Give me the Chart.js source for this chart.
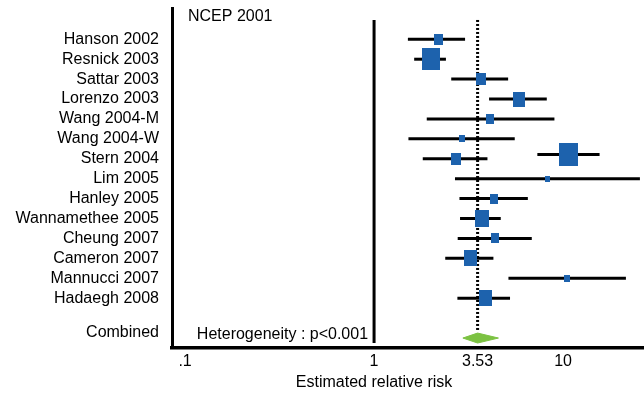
<!DOCTYPE html>
<html>
<head>
<meta charset="utf-8">
<script src="https://cdn.jsdelivr.net/npm/chart.js@4/dist/chart.umd.min.js"></script>
<style>
  html, body { margin: 0; padding: 0; background: #fff; }
  #wrap { width: 644px; height: 394px; }
</style>
</head>
<body>
<div id="wrap"><canvas id="myChart"></canvas></div>
<script>
// row labels on the left
const studyLabels = ['Hanson 2002', 'Resnick 2003', 'Sattar 2003', 'Lorenzo 2003', 'Wang 2004-M', 'Wang 2004-W',
    'Stern 2004', 'Lim 2005', 'Hanley 2005', 'Wannamethee 2005', 'Cheung 2007', 'Cameron 2007',
    'Mannucci 2007', 'Hadaegh 2008', 'Combined'];
const labelRows = [1, 2, 3, 4, 5, 6, 7, 8, 9, 10, 11, 12, 13, 14, 15.75];

// one entry per estimate (Stern 2004 has two)
const studyRow = [1, 2, 3, 4, 5, 6, 7, 6.78, 8, 9, 10, 11, 12, 13, 14];
const relRisk = [2.18, 1.99, 3.68, 5.84, 4.13, 2.93, 2.71, 10.7, 8.28, 4.32, 3.73, 4.36, 3.23, 10.5, 3.88];
const ciLow = [1.51, 1.63, 2.56, 4.06, 1.90, 1.52, 1.81, 7.31, 2.68, 2.83, 2.85, 2.77, 2.38, 5.14, 2.76];
const ciHigh = [3.03, 2.40, 5.12, 8.20, 9.0, 5.55, 3.98, 15.6, 25.5, 6.51, 4.68, 6.83, 4.28, 21.5, 5.24];
const weights = [8.6, 31, 10, 15.1, 5.9, 3.2, 10.6, 36, 2.5, 6.9, 19.6, 6.9, 16.1, 3.2, 16.1];

// pooled estimate
const pooledRR = 3.53;
const pooledLow = 2.95;
const pooledHigh = 4.55;
const pooledRow = 16;

const xTicks = [0.1, 1, 3.53, 10];
const xTickLabels = ['.1', '1', '3.53', '10'];

const titleText = 'NCEP 2001';
const hetText = 'Heterogeneity : p<0.001';
const axisTitle = 'Estimated relative risk';

const FONT = 'Liberation Sans';
const BLUE = '#1d62ad';
const GREEN = '#7cc242';

function makeBox(weight){
    let w = Math.round(Math.sqrt(weight * 10));
    let h = Math.round(w * 1.22);
    let c = document.createElement('canvas');
    c.width = w;
    c.height = h;
    let g = c.getContext('2d');
    g.fillStyle = BLUE;
    g.fillRect(0, 0, w, h);
    return c;
}

let datasets = [];

// squares
datasets.push({
    data: relRisk.map((v, i) => ({x: v, y: studyRow[i]})),
    pointStyle: weights.map(makeBox),
    pointRadius: 5,
    order: 0,
});

// confidence intervals
relRisk.forEach((v, i) => {
    datasets.push({
        data: [{x: ciLow[i], y: studyRow[i]}, {x: ciHigh[i], y: studyRow[i]}],
        showLine: true,
        borderColor: '#000',
        borderWidth: 3,
        pointRadius: 0,
        order: 2,
    });
});

// pooled diamond
datasets.push({
    data: [
        {x: pooledLow, y: pooledRow},
        {x: pooledRR, y: pooledRow - 0.25},
        {x: pooledHigh, y: pooledRow},
        {x: pooledRR, y: pooledRow + 0.25},
        {x: pooledLow, y: pooledRow},
    ],
    showLine: true,
    fill: 'shape',
    backgroundColor: GREEN,
    borderColor: GREEN,
    borderWidth: 1,
    pointRadius: 0,
    order: 1,
});

// null line and pooled line
datasets.push({
    data: [{x: 1, y: 0.03}, {x: 1, y: 16.25}],
    showLine: true,
    borderColor: '#000',
    borderWidth: 3,
    pointRadius: 0,
    order: 3,
});
datasets.push({
    data: [{x: pooledRR, y: 0.03}, {x: pooledRR, y: 15.65}],
    showLine: true,
    borderColor: '#000',
    borderWidth: 3,
    borderDash: [2, 2],
    pointRadius: 0,
    order: 3,
});

const textPlugin = {
    id: 'texts',
    afterDraw(chart){
        const ctx = chart.ctx;
        const x = chart.scales.x, y = chart.scales.y;
        ctx.save();
        ctx.fillStyle = '#000';
        ctx.font = '16px "' + FONT + '"';
        ctx.textBaseline = 'middle';
        ctx.textAlign = 'left';
        ctx.fillText(titleText, 188, 17);
        ctx.textAlign = 'right';
        ctx.fillText(hetText, x.getPixelForValue(1) - 6, y.getPixelForValue(15.85));
        ctx.textAlign = 'center';
        ctx.fillText(axisTitle, x.getPixelForValue(1), 383);
        ctx.restore();
    }
};

function noPadding(s){
    s.paddingTop = 0;
    s.paddingBottom = 0;
    s.paddingLeft = 0;
    s.paddingRight = 0;
}

const ctx = document.getElementById('myChart').getContext('2d');
const myChart = new Chart(ctx, {
    type: 'scatter',
    data: {datasets: datasets},
    options: {
        responsive: true,
        maintainAspectRatio: false,
        animation: false,
        layout: {padding: {top: 8, left: 0, right: 0, bottom: 0}, autoPadding: false},
        plugins: {
            legend: {display: false},
            tooltip: {enabled: false},
        },
        scales: {
            x: {
                type: 'logarithmic',
                min: 0.0853,
                max: 26.8,
                grid: {display: false, drawTicks: false},
                border: {display: true, width: 3.5, color: '#000'},
                ticks: {
                    font: {size: 16, family: FONT},
                    color: '#000',
                    padding: 4,
                    maxRotation: 0,
                    autoSkip: false,
                    callback: (v) => {
                        let i = xTicks.indexOf(v);
                        return i >= 0 ? xTickLabels[i] : '';
                    },
                },
                afterBuildTicks: (s) => { s.ticks = xTicks.map(v => ({value: v})); },
                afterFit: (s) => { s.height = 46; noPadding(s); },
            },
            y: {
                type: 'linear',
                reverse: true,
                min: -0.571,
                max: 16.5,
                grid: {display: false, drawTicks: false},
                border: {display: true, width: 3, color: '#000'},
                ticks: {
                    font: {size: 16, family: FONT},
                    color: '#000',
                    padding: 13,
                    autoSkip: false,
                    callback: (v) => {
                        let i = labelRows.indexOf(v);
                        return i >= 0 ? studyLabels[i] : '';
                    },
                },
                afterBuildTicks: (s) => { s.ticks = labelRows.map(v => ({value: v})); },
                afterFit: (s) => { s.width = 172; noPadding(s); },
            },
        },
    },
    plugins: [textPlugin],
});
</script>
</body>
</html>
